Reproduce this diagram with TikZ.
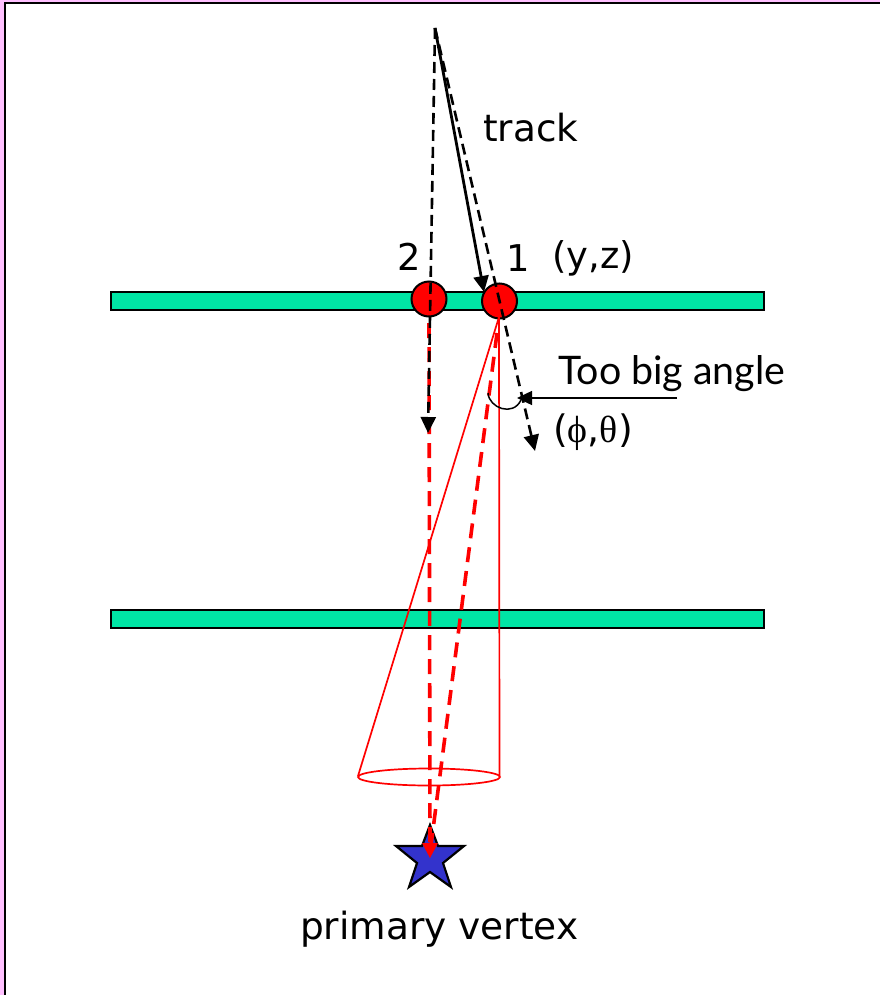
\documentclass[tikz,border=0pt]{standalone}
\usepackage{fontspec}
\setmainfont{DejaVu Sans}
\newfontfamily\handfont{Lato}
\newfontfamily\symfont{Liberation Serif}
\usetikzlibrary{arrows.meta}
\definecolor{barcol}{HTML}{00E5A5}
\definecolor{starcol}{HTML}{3333CC}
\definecolor{framepink}{HTML}{FFC0FF}
\tikzset{
  barbox/.style={draw=black,line width=2bp,fill=barcol},
  hit/.style={circle,draw=black,line width=2bp,fill=red,minimum size=35bp,inner sep=0pt},
  tip/.style={-{Triangle[length=16bp,width=15bp]}},
  blackdash/.style={black,line width=2.6bp,dash pattern=on 11bp off 6bp,tip},
  reddash/.style={red,line width=3.6bp,dash pattern=on 15bp off 9bp},
  redthin/.style={red,line width=1.7bp},
  lab/.style={inner sep=0pt,anchor=base west,text=black},
}
\begin{document}
\begin{tikzpicture}[x=1bp,y=-1bp]
\useasboundingbox (0,0) rectangle (880,995);
\fill[framepink] (0,0) rectangle (880,995);
\fill[white] (5,3) rectangle (880,995);
\draw[black,line width=2.2bp] (5,995) -- (5,3) -- (880,3);
\node[barbox,minimum width=653bp,minimum height=18bp,inner sep=0pt,anchor=north west] (bar1) at (109.8,291.3) {};
\node[barbox,minimum width=653bp,minimum height=18bp,inner sep=0pt,anchor=north west] (bar2) at (109.8,609.3) {};
\node[hit] (h2) at (429,299) {};
\node[hit] (h1) at (499.5,301) {};
\coordinate (src) at (435,28);
\coordinate (e2) at (428,433);
\coordinate (e1) at (535,451);
\coordinate (c1) at (358,776);
\coordinate (c2) at (499.5,776);
\coordinate (apex) at (499,317);
\coordinate (pv) at (430,858);
\coordinate (arcA) at (488,393);
\coordinate (arcB) at (521,400);
\coordinate (arrS) at (677,398);
% cone
\draw[redthin] (apex) -- (c1);
\draw[redthin] (apex) -- (c2);
\draw[redthin] (429,777) ellipse [x radius=71,y radius=8.5];
% star
\node[coordinate] (vertex) at (430,857) {};
\draw[black,line width=2.2bp,fill=starcol,line join=miter] (430,825) -- (438,846) -- (464,846) -- (443,863) -- (451,887) -- (430,872) -- (409,887) -- (417,863) -- (396,846) -- (422,846) -- cycle;
% red dashed
\draw[reddash] (429,323) -- (430,845);
\draw[reddash] (497,333) -- (431,845);
\fill[red] (422,843) -- (438,843) -- (430,858) -- cycle;
% black dashed
\draw[blackdash] (src) -- (e2);
\draw[blackdash] (src) -- (e1);
\draw[black,line width=2.8bp,tip] (src) -- (484,292);
% angle
\draw[black,line width=1.5bp] (arcA) .. controls (489,408) and (513,417) .. (arcB);
\draw[black,line width=1.5bp,-{Triangle[length=15bp,width=14bp]}] (arrS) -- (517,398);
% labels
\node[lab,font=\fontsize{37.5}{37.5}\selectfont] (ltrack) at (483,141) {track};
\node[lab,font=\fontsize{37}{37}\selectfont] (l2) at (397,270) {2};
\node[lab,font=\fontsize{37}{37}\selectfont] (l1) at (506,271) {1};
\node[lab,font=\fontsize{37}{37}\selectfont] (lyz) at (552,268) {(y,z)};
\node[lab,font=\handfont\fontsize{39.5}{39.5}\selectfont] (ltoo) at (558,384) {Too big angle};
\node[lab,font=\fontsize{38}{38}\selectfont] (lpt) at (553,442) {({\symfont ϕ},{\symfont θ})};
\node[lab,font=\fontsize{37.6}{37.6}\selectfont] (lpv) at (300,939) {primary vertex};
\end{tikzpicture}
\end{document}
